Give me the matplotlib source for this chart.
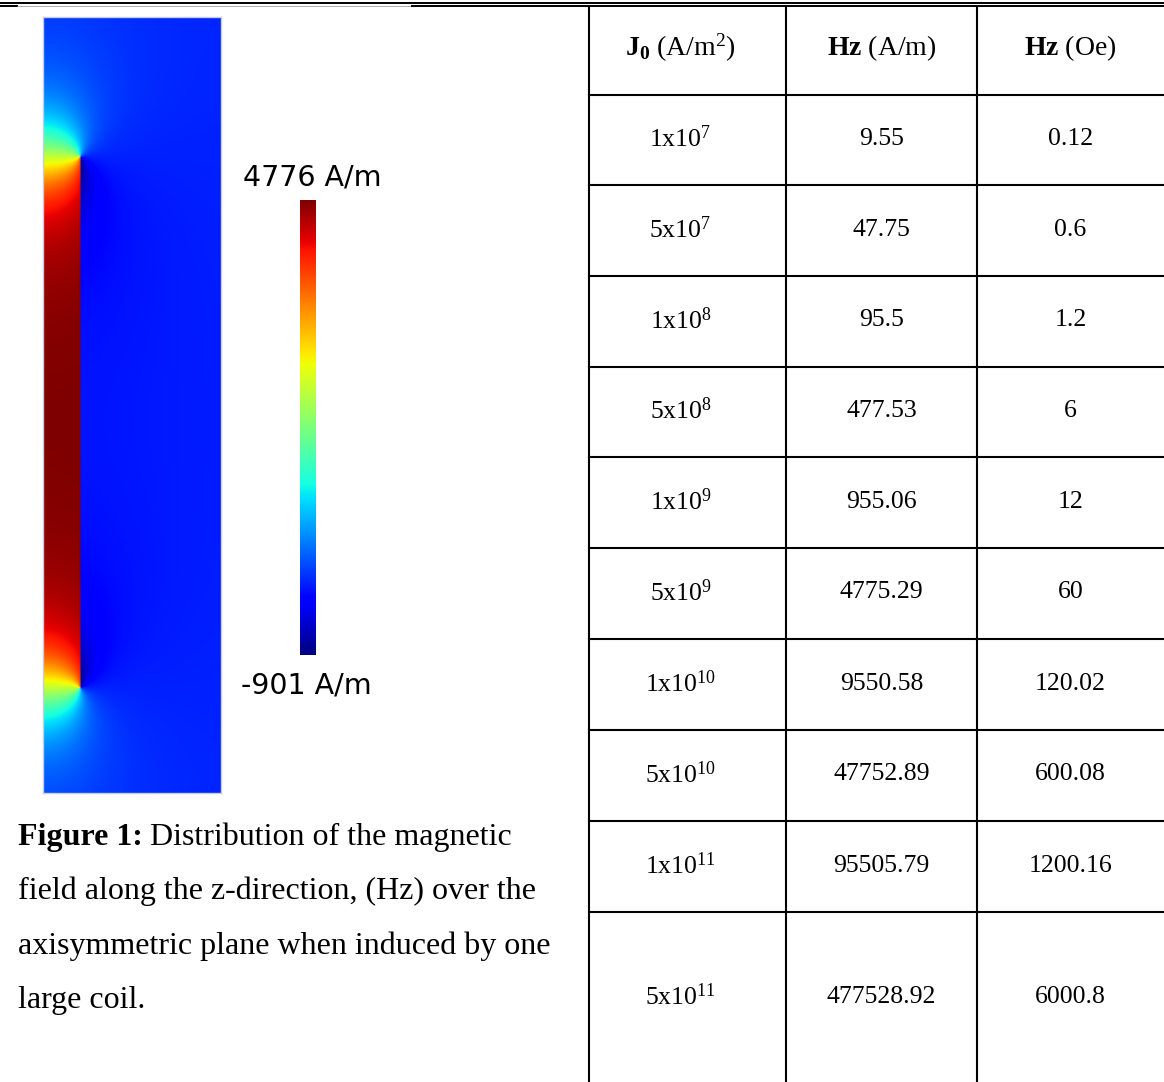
import numpy as np
import matplotlib
matplotlib.use("Agg")
import matplotlib.pyplot as plt

plt.rcParams['mathtext.fontset'] = 'custom'
plt.rcParams['mathtext.rm'] = 'Liberation Serif'
plt.rcParams['mathtext.bf'] = 'Liberation Serif:bold'
plt.rcParams['mathtext.it'] = 'Liberation Serif:italic'

# table data
j0_mant = ['1', '5', '1', '5', '1', '5', '1', '5', '1', '5']
j0_exp = ['7', '7', '8', '8', '9', '9', '10', '10', '11', '11']
hz_am = ['9.55', '47.75', '95.5', '477.53', '955.06', '4775.29',
         '9550.58', '47752.89', '95505.79', '477528.92']
hz_oe = ['0.12', '0.6', '1.2', '6', '12', '60', '120.02', '600.08',
         '1200.16', '6000.8']
headers = [r'$\mathbf{J_0}$ (A/m$^{2}$)', r'$\mathbf{Hz}$ (A/m)', r'$\mathbf{Hz}$ (Oe)']

# field plot: colour range and coil geometry (pixel units of the picture)
h_max, h_min = 4776, -901
coil_r = 37.0
coil_z0, coil_z1 = 105.0, 636.0
dom_r, dom_z = 178.0, 776.0
r_stretch = 1.4   # the plot is squeezed sideways

cap_bold = 'Figure 1:'
caption = ['Distribution of the magnetic',
           'field along the z-direction, (Hz) over the',
           'axisymmetric plane when induced by one',
           'large coil.']


def ellipke(m):
    a = np.ones_like(m)
    b = np.sqrt(1 - m)
    c = np.sqrt(m)
    s = 0.5 * c ** 2
    p = 0.5
    for _ in range(14):
        a, b, c = (a + b) / 2, np.sqrt(a * b), (a - b) / 2
        p *= 2
        s += p * c ** 2
    K = np.pi / (2 * a)
    return K, K * (1 - s)


def loop_bz(r, z, a):
    q = (a + r) ** 2 + z ** 2
    m = np.clip(4 * a * r / q, 0, 1 - 1e-12)
    K, E = ellipke(m)
    return (K + (a ** 2 - r ** 2 - z ** 2) / ((a - r) ** 2 + z ** 2) * E) / np.sqrt(q)


# field of a cylindrical current sheet = sum of loops (cumulative sum along z)
step = 0.5
r = np.arange(0.75, dom_r, 1.5)
dz = np.arange(-dom_z - 2, dom_z + 2, step)
R, DZ = np.meshgrid(r * r_stretch, dz, indexing='ij')
G = loop_bz(R, DZ, coil_r * r_stretch)
C = np.concatenate([np.zeros((len(r), 1)), np.cumsum(G, axis=1)], axis=1)
z = np.arange(0.5, dom_z, 1.0)
i0 = np.searchsorted(dz, z[None, :] - coil_z1)
i1 = np.searchsorted(dz, z[None, :] - coil_z0)
field = np.take_along_axis(C, np.broadcast_to(i1, (len(r), len(z))), axis=1) - \
    np.take_along_axis(C, np.broadcast_to(i0, (len(r), len(z))), axis=1)
field = field.T
mid = np.argmin(np.abs(z - (coil_z0 + coil_z1) / 2))
field = field / field[mid, 0] * h_max

cmap = matplotlib.colormaps['jet'].resampled(2048)

W, H = 1164, 1082
fig = plt.figure(figsize=(W / 100, H / 100), dpi=100)


def frac(x0, y0, x1, y1):
    return [x0 / W, 1 - y1 / H, (x1 - x0) / W, (y1 - y0) / H]


ax = fig.add_axes([0, 0, 1, 1])
ax.set_xlim(0, W)
ax.set_ylim(H, 0)
ax.axis('off')

# field image
axf = fig.add_axes(frac(43, 17, 221, 793))
axf.imshow(field, origin='lower', extent=[0, dom_r, 0, dom_z], cmap=cmap,
           vmin=h_min, vmax=h_max, aspect='auto', interpolation='bilinear')
axf.set_xticks([])
axf.set_yticks([])
for s in axf.spines.values():
    s.set_color('#c5cde0')
    s.set_linewidth(1.0)

# colour bar
axc = fig.add_axes(frac(300, 200, 316, 655))
axc.imshow(np.linspace(h_min, h_max, 512)[:, None], origin='lower', cmap=cmap,
           vmin=h_min, vmax=h_max, aspect='auto')
axc.axis('off')
ax.text(243, 178, f'{h_max} A/m', fontsize=20.5, family='DejaVu Sans', va='center', ha='left')
ax.text(241, 686, f'{h_min} A/m', fontsize=20.5, family='DejaVu Sans', va='center', ha='left')

# caption
cap_fs = 23
renderer = fig.canvas.get_renderer()
tb = ax.text(18, 837, cap_bold, fontsize=cap_fs, family='Liberation Serif',
             fontweight='bold', va='center', ha='left')
x_after = tb.get_window_extent(renderer).x1 + 7
for i, line in enumerate(caption):
    ax.text(x_after if i == 0 else 18, 837 + 54.5 * i, line, fontsize=cap_fs,
            family='Liberation Serif', va='center', ha='left')

# top rules
ax.plot([0, W], [2.5, 2.5], color='black', lw=1.4)
ax.plot([0, 17], [5.8, 5.8], color='black', lw=1.4)
ax.plot([17, 412], [5.8, 5.8], color='#888888', lw=0.5)
ax.plot([412, W], [5.8, 5.8], color='black', lw=1.4)

# table
tab_fs = 18.5
col_x = [589, 786, 977, 1164]
row_y = [7, 95, 185, 276, 367, 457, 548, 639, 730, 821, 912, H + 2]
for x in col_x[:3]:
    ax.plot([x, x], [7, H], color='black', lw=1.5)
for y in row_y[1:-1]:
    ax.plot([col_x[0], W], [y, y], color='black', lw=1.5)
cx = [(col_x[i] + col_x[i + 1]) / 2 for i in range(3)]
cx[0] -= 7
for i, hd in enumerate(headers):
    ax.text(cx[i], 48, hd, fontsize=20, family='Liberation Serif', ha='center', va='center')
for k in range(len(hz_am)):
    yc = (row_y[k + 1] + row_y[k + 2]) / 2 - 1
    ax.text(cx[0], yc, f'{j0_mant[k]}x10$^{{{j0_exp[k]}}}$', fontsize=tab_fs,
            family='Liberation Serif', ha='center', va='center')
    ax.text(cx[1], yc, hz_am[k], fontsize=tab_fs, family='Liberation Serif', ha='center', va='center')
    ax.text(cx[2], yc, hz_oe[k], fontsize=tab_fs, family='Liberation Serif', ha='center', va='center')

fig.savefig('out.png', dpi=100)
